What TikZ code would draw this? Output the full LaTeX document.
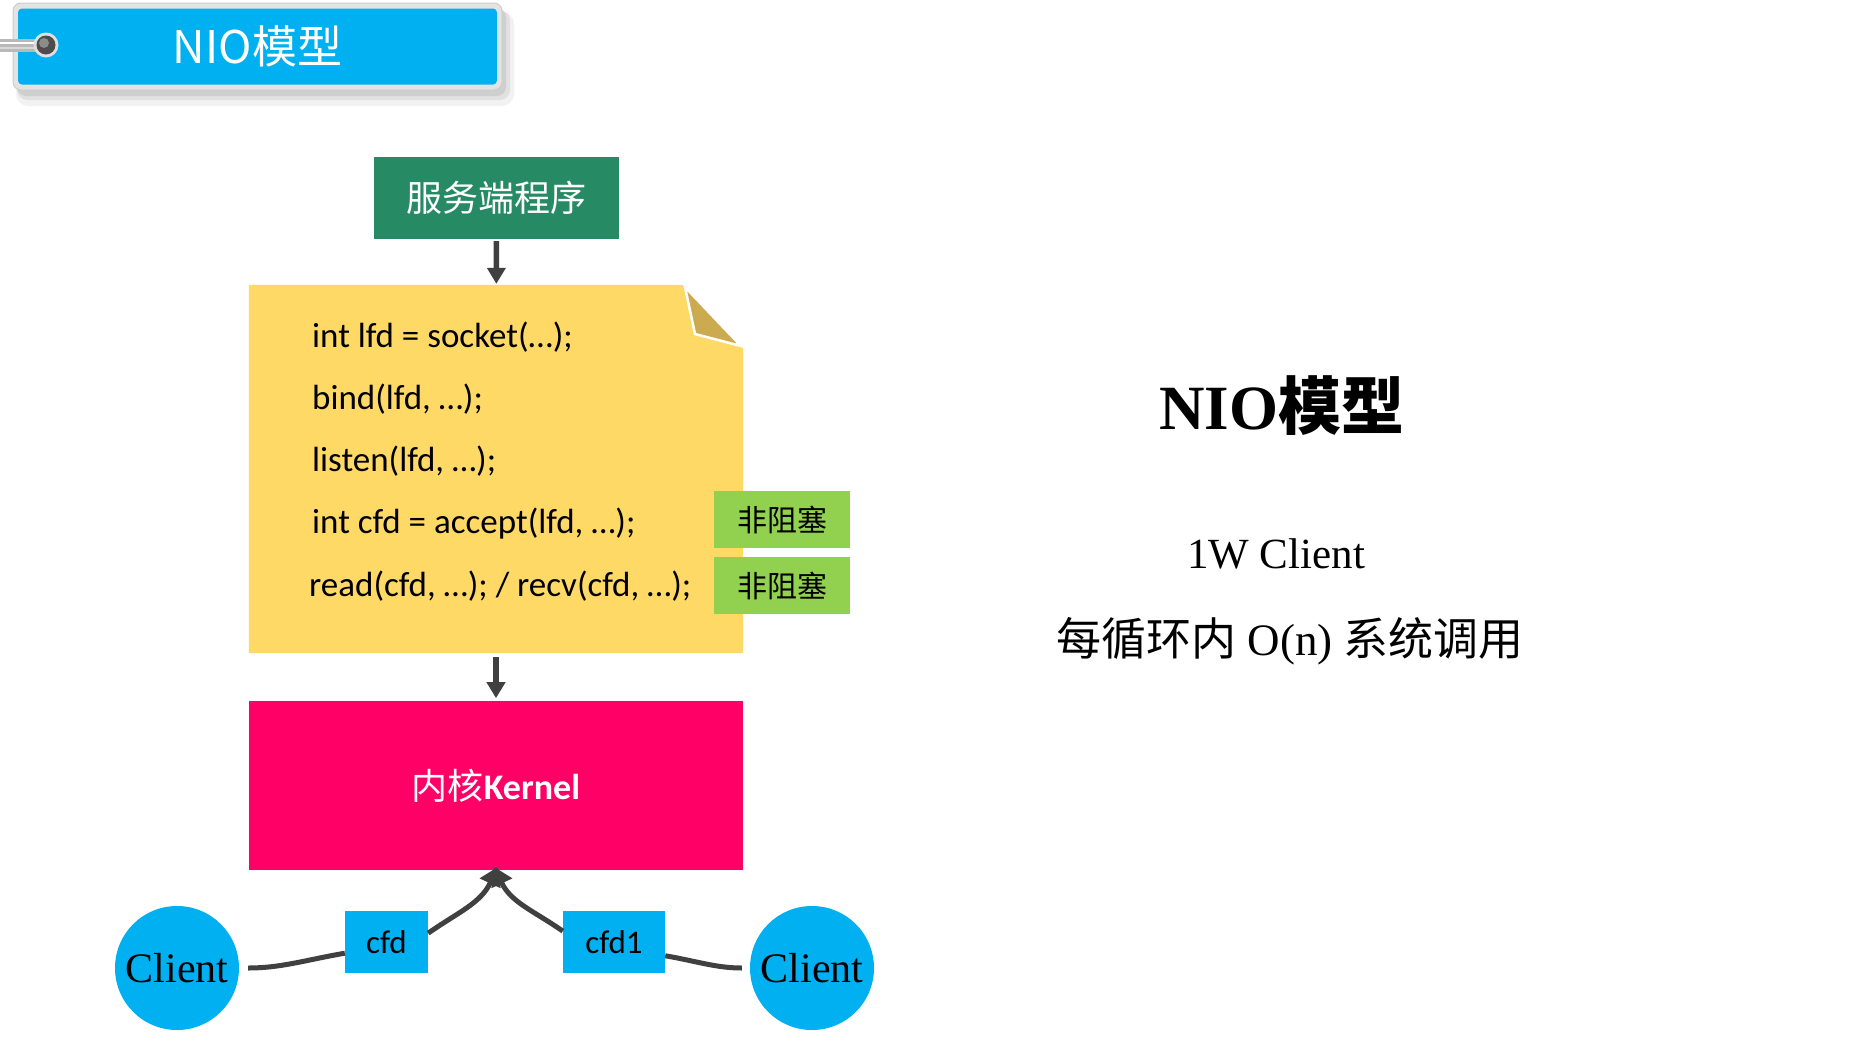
\documentclass[tikz,border=0pt]{standalone}
\usepackage{fontspec}
\setmainfont{Liberation Serif}
\newfontfamily\cjk{Noto Sans CJK SC}
\newfontfamily\calibri{Carlito}
\usetikzlibrary{arrows.meta,positioning}
\definecolor{tagblue}{HTML}{00B0F0}
\definecolor{srvgreen}{HTML}{268B65}
\definecolor{noteyellow}{HTML}{FFD966}
\definecolor{foldgold}{HTML}{CCAA50}
\definecolor{nbgreen}{HTML}{92D050}
\definecolor{kernelpink}{HTML}{FF0066}
\definecolor{linkgray}{HTML}{404040}

\begin{document}
\begin{tikzpicture}[
  x=1pt, y=-1pt,
  box/.style={rectangle, inner sep=0pt, align=center},
  srv/.style={box, fill=srvgreen, text=white, minimum width=245pt, minimum height=82pt, font=\cjk\fontsize{36}{40}\selectfont},
  code/.style={anchor=base west, inner sep=0pt, font=\calibri\fontsize{35}{40}\selectfont},
  nb/.style={box, fill=nbgreen, minimum width=136pt, minimum height=57pt, font=\cjk\fontsize{30}{34}\selectfont},
  kern/.style={box, fill=kernelpink, text=white, minimum width=494pt, minimum height=169pt, font=\fontsize{36}{40}\selectfont},
  client/.style={circle, fill=tagblue, minimum size=124pt, inner sep=0pt, font=\fontsize{42}{46}\selectfont},
  fd/.style={box, fill=tagblue, minimum height=62pt, font=\calibri\fontsize{33}{36}\selectfont},
  arrow/.style={-{Triangle[width=18pt,length=16pt]}, draw=linkgray, line width=5.5pt},
  link/.style={draw=linkgray, line width=5pt},
  side/.style={inner sep=0pt}
]
\useasboundingbox (0,0) rectangle (1856,1044);

% title tag
\fill[black, opacity=.05, rounded corners=12pt] (16,12) rectangle (514,106);
\fill[black, opacity=.07, rounded corners=10pt] (17,10) rectangle (510,100);
\fill[black, opacity=.08, rounded corners=9pt] (17,8) rectangle (506,96);
\node[box, fill=gray!22, draw=gray!40, line width=1pt, rounded corners=8pt,
  minimum width=489pt, minimum height=87pt] (tag) at (257.5,46.5) {};
\node[box, fill=tagblue, text=white, rounded corners=4pt, minimum width=479pt,
  minimum height=76pt, font=\cjk\fontsize{45}{50}\selectfont] (tagtext) at (tag.center) {NIO模型};
\coordinate (ring) at (46,45);
\fill[gray!55] (0,39) rectangle (44,52);
\draw[white, line width=2pt] (0,43) -- (44,43);
\draw[white!70!gray, line width=1.5pt] (0,48) -- (44,48);
\fill[gray!25] (ring) circle (12.5);
\fill[black!70] (ring) circle (9.5);
\fill[black!45] ([shift={(-2,-2)}]ring) circle (5);

% server and code
\node[srv] (server) at (496.5,198) {服务端程序};
\node[box, minimum width=494pt, minimum height=368pt] (note) at (496,469) {};
\fill[noteyellow] (note.north west) -- (684,285) -- (695,334) -- (note.north east |- 0,347)
  -- (note.south east) -- (note.south west) -- cycle;
\filldraw[fill=foldgold, draw=white, line width=2.5pt, line join=miter] (685,287) -- (695,334) -- (741,346) -- cycle;
\node[code] (l1) at (312,347) {int lfd = socket(…);};
\node[code] (l2) at (312,409) {bind(lfd, …);};
\node[code] (l3) at (312,471) {listen(lfd, …);};
\node[code] (l4) at (312,533) {int cfd = accept(lfd, …);};
\node[code] (l5) at (309,596) {read(cfd, …); / recv(cfd, …);};
\node[nb] (nb1) at (782,519.5) {非阻塞};
\node[nb, below=9pt of nb1] (nb2) {非阻塞};

% kernel
\node[kern, below=48pt of note] (kernel) {{\cjk 内核}{\calibri\bfseries Kernel}};
\draw[arrow, shorten <=2pt, shorten >=1pt] (server) -- (note);
\draw[arrow, shorten <=4pt, shorten >=3pt] (note) -- (kernel);

% clients
\node[client] (cl1) at (177,968) {Client};
\node[client] (cl2) at (812,968) {Client};
\node[fd, minimum width=83pt] (cfd) at (386.5,942) {cfd};
\node[fd, minimum width=102pt] (cfd1) at (614,942) {cfd1};
\draw[link, shorten <=9pt] (cl1.east) to[out=0,in=190] (cfd.195);
\draw[link, shorten <=8pt] (cl2.west) to[out=180,in=-10] (cfd1.-15);
\draw[link, -{Triangle[width=22pt,length=18pt]}, shorten >=-4pt] (cfd.12) to[out=35,in=-115] (kernel.south);
\draw[link, -{Triangle[width=22pt,length=18pt]}, shorten >=-4pt] (cfd1.168) to[out=145,in=-65] (kernel.south);

% right column
\node[side, font=\fontsize{63}{70}\selectfont] (rtitle) at (1282,406) {\textbf{NIO}{\cjk\bfseries 模型}};
\node[side, font=\fontsize{43}{46}\selectfont] (rcount) at (1276,554) {1W Client};
\node[side, font=\fontsize{45}{50}\selectfont] (rcost) at (1290,641) {{\cjk 每循环内} O(n) {\cjk 系统调用}};
\end{tikzpicture}
\end{document}
